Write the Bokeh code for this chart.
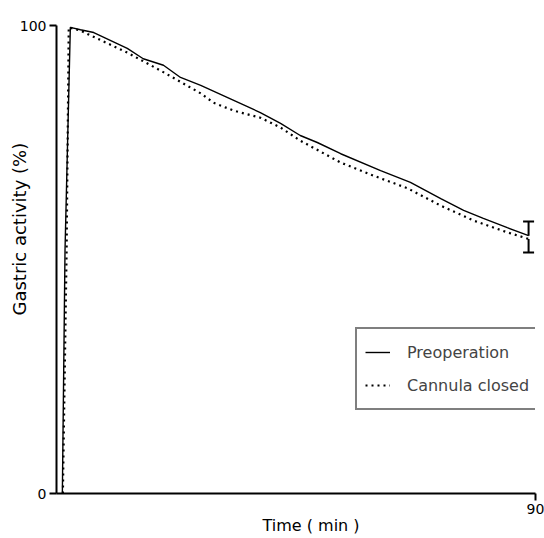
from bokeh.plotting import figure
from bokeh.models import (Range1d, FixedTicker, Legend, LegendItem, Title,
                          Whisker, TeeHead, ColumnDataSource)
from bokeh.embed import file_html
from bokeh.resources import INLINE

# ---- data ----
solid_t = [1.1, 1.6, 2.6, 4.5, 7.0, 13.3, 16.3, 20.1, 23.3, 27.1, 33.3, 38.3,
           42.1, 45.8, 49.0, 53.4, 60.9, 66.5, 72.2, 76.5, 80.2, 84.7, 88.7]
solid_v = [0, 52, 99.6, 99.1, 98.5, 95.1, 92.9, 91.5, 88.9, 87.2, 84.0, 81.4,
           79.1, 76.5, 75.0, 72.6, 69.0, 66.5, 63.0, 60.5, 58.8, 56.8, 55.1]

dotted_t = [1.2, 1.9, 2.3, 4.5, 13.3, 19.5, 27.1, 29.5, 33.3, 38.3, 42.1, 45.8,
            53.4, 59.6, 66.0, 72.2, 78.4, 84.7, 88.7]
dotted_v = [0, 52, 99.6, 98.9, 94.2, 90.4, 85.5, 83.5, 81.8, 80.3, 78.2, 75.4,
            70.7, 67.9, 65.2, 61.5, 58.3, 55.8, 54.4]

err_t = [88.7]
solid_err_upper = [58.1]
dotted_err_lower = [51.5]

series_labels = ["Preoperation", "Cannula closed"]
x_ticks = [90]
y_ticks = [0, 100]
x_title = "Time ( min )"
y_title = "Gastric activity (%)"

FONT = "DejaVu Sans"

p = figure(width=544, height=538, x_range=Range1d(0, 90), y_range=Range1d(0, 100),
           output_backend="svg", toolbar_location=None,
           min_border_left=56, min_border_right=9, min_border_top=25,
           min_border_bottom=45)
p.grid.visible = False
p.outline_line_color = None
p.background_fill_color = "white"

for ax, ticks in ((p.xaxis, x_ticks), (p.yaxis, y_ticks)):
    ax.ticker = FixedTicker(ticks=ticks)
    ax.minor_tick_line_color = None
    ax.major_tick_in = 0
    ax.major_tick_out = 7
    ax.major_tick_line_width = 2
    ax.axis_line_width = 2
    ax.axis_line_color = "black"
    ax.major_tick_line_color = "black"
    ax.major_label_text_font = FONT
    ax.major_label_text_font_size = "14px"
    ax.major_label_text_color = "black"
    ax.major_label_standoff = 3

r1 = p.line(solid_t, solid_v, line_color="black", line_width=1.4)
r2 = p.line(dotted_t, dotted_v, line_color="black", line_width=2.2, line_dash="2 4")

src1 = ColumnDataSource(dict(t=err_t, lo=[solid_v[-1]], hi=solid_err_upper))
w1 = Whisker(base="t", lower="lo", upper="hi", source=src1, line_width=2,
             upper_head=TeeHead(size=11, line_width=2), lower_head=None)
src2 = ColumnDataSource(dict(t=err_t, lo=dotted_err_lower, hi=[dotted_v[-1]]))
w2 = Whisker(base="t", lower="lo", upper="hi", source=src2, line_width=2,
             lower_head=TeeHead(size=11, line_width=2), upper_head=None)
p.add_layout(w1)
p.add_layout(w2)

legend = Legend(items=[LegendItem(label=series_labels[0], renderers=[r1]),
                       LegendItem(label=series_labels[1], renderers=[r2])],
                location=(299, 83), margin=0, padding=8, spacing=3,
                glyph_width=25, glyph_height=30, label_height=30,
                label_standoff=17,
                label_text_font=FONT, label_text_font_size="16px",
                border_line_color="black", border_line_width=2,
                background_fill_alpha=1.0)
p.add_layout(legend)

p.add_layout(Title(text=x_title, align="left", offset=206, standoff=-6,
                   text_font=FONT, text_font_size="16px", text_font_style="normal",
                   text_color="black"), "below")
p.add_layout(Title(text=y_title, align="left", offset=178, standoff=-27,
                   text_font=FONT, text_font_size="18px", text_font_style="normal",
                   text_color="black"), "left")

open("out.html", "w").write(file_html(p, INLINE))
